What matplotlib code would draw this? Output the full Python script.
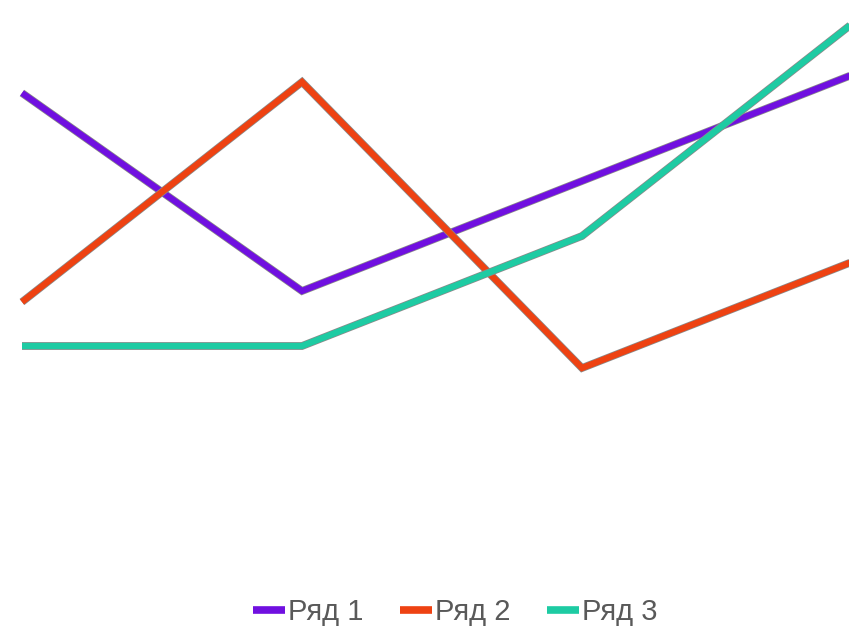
import matplotlib
matplotlib.use("Agg")
import matplotlib.pyplot as plt
import matplotlib.patheffects as pe

# данные
categories = ["Категория 1", "Категория 2", "Категория 3", "Категория 4"]
series_names = ["Ряд 1", "Ряд 2", "Ряд 3"]
row1 = [4.3, 2.5, 3.5, 4.5]
row2 = [2.4, 4.4, 1.8, 2.8]
row3 = [2, 2, 3, 5]
colors = ["#7010E0", "#EE4212", "#1ECBA3"]

plt.rcParams["font.family"] = ["Liberation Sans", "DejaVu Sans"]

W, H = 849, 627
fig = plt.figure(figsize=(W / 100, H / 100), dpi=100)
ax = fig.add_axes([0, 0, 1, 1])

x = list(range(len(categories)))
outline = [pe.Stroke(linewidth=5.6, foreground="#8a8a8a"), pe.Normal()]
for name, vals, c in zip(series_names, [row1, row2, row3], colors):
    ax.plot(x, vals, color=c, lw=4.5, label=name, solid_capstyle="butt",
            solid_joinstyle="miter", path_effects=outline)

# пиксельная разметка: x=0 на 22px, шаг 280px; y=0 на 566px, 110px на единицу
ax.set_xlim(-22 / 280, (W - 22) / 280)
ax.set_ylim((566 - H) / 110, 566 / 110)
ax.axis("off")

leg = fig.legend(loc="center", bbox_to_anchor=(455 / W, 1 - 612 / H), ncol=3,
                 frameon=False, fontsize=21, handlelength=1.1, handletextpad=0.1,
                 columnspacing=1.25, labelcolor="#595959")
for h in leg.legend_handles:
    h.set_linewidth(5.5)
    h.set_path_effects([])

fig.savefig("out.png", dpi=100)
plt.close(fig)
